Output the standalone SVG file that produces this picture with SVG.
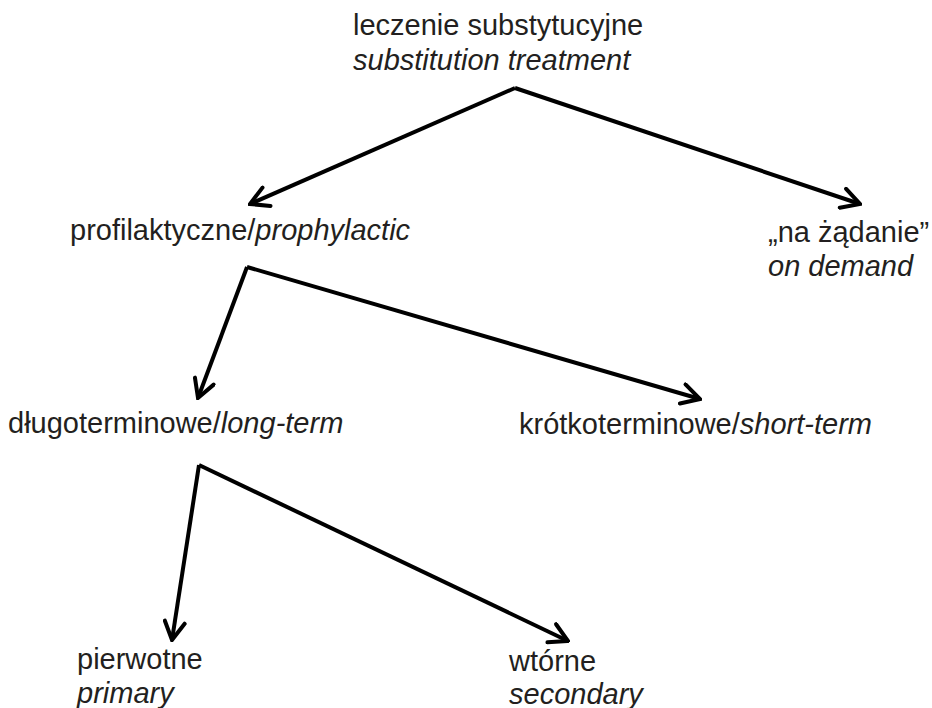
<svg xmlns="http://www.w3.org/2000/svg" width="932" height="708" viewBox="0 0 932 708">
  <defs>
    <marker id="arrow" viewBox="-22 -12 24 24" refX="0" refY="0" markerWidth="24" markerHeight="24" markerUnits="userSpaceOnUse" orient="auto">
      <path d="M-18,-10 L0,0 L-18,10" fill="none" stroke="#000" stroke-width="4" stroke-linecap="round" stroke-linejoin="miter"/>
    </marker>
    <style>
      text { font-family: "Liberation Sans", Arial, sans-serif; font-size: 29px; fill: #231f20; }
      .en { font-style: italic; }
      .link { fill: none; stroke: #000; stroke-width: 4; stroke-linejoin: miter; }
    </style>
  </defs>
  <rect width="932" height="708" fill="#fff"/>

  <g id="root">
    <text x="353" y="35">leczenie substytucyjne</text>
    <text x="353" y="70" class="en">substitution treatment</text>
  </g>
  <g id="prophylactic">
    <text x="70" y="240">profilaktyczne/<tspan class="en">prophylactic</tspan></text>
  </g>
  <g id="on-demand">
    <text x="768" y="242">„na żądanie”</text>
    <text x="768" y="276" class="en">on demand</text>
  </g>
  <g id="long-term">
    <text x="8" y="433">długoterminowe/<tspan class="en">long-term</tspan></text>
  </g>
  <g id="short-term">
    <text x="519" y="434">krótkoterminowe/<tspan class="en">short-term</tspan></text>
  </g>
  <g id="primary">
    <text x="77" y="669">pierwotne</text>
    <text x="77" y="703" class="en">primary</text>
  </g>
  <g id="secondary">
    <text x="509" y="671">wtórne</text>
    <text x="509" y="704" class="en">secondary</text>
  </g>

  <g id="connectors">
    <path class="link" d="M515,88 L250,204" marker-end="url(#arrow)"/>
    <path class="link" d="M515,88 L860,204" marker-end="url(#arrow)"/>
    <path class="link" d="M247,267 L198,398" marker-end="url(#arrow)"/>
    <path class="link" d="M247,267 L700,399" marker-end="url(#arrow)"/>
    <path class="link" d="M199,465 L172,640" marker-end="url(#arrow)"/>
    <path class="link" d="M199,465 L568,641" marker-end="url(#arrow)"/>
  </g>
</svg>
